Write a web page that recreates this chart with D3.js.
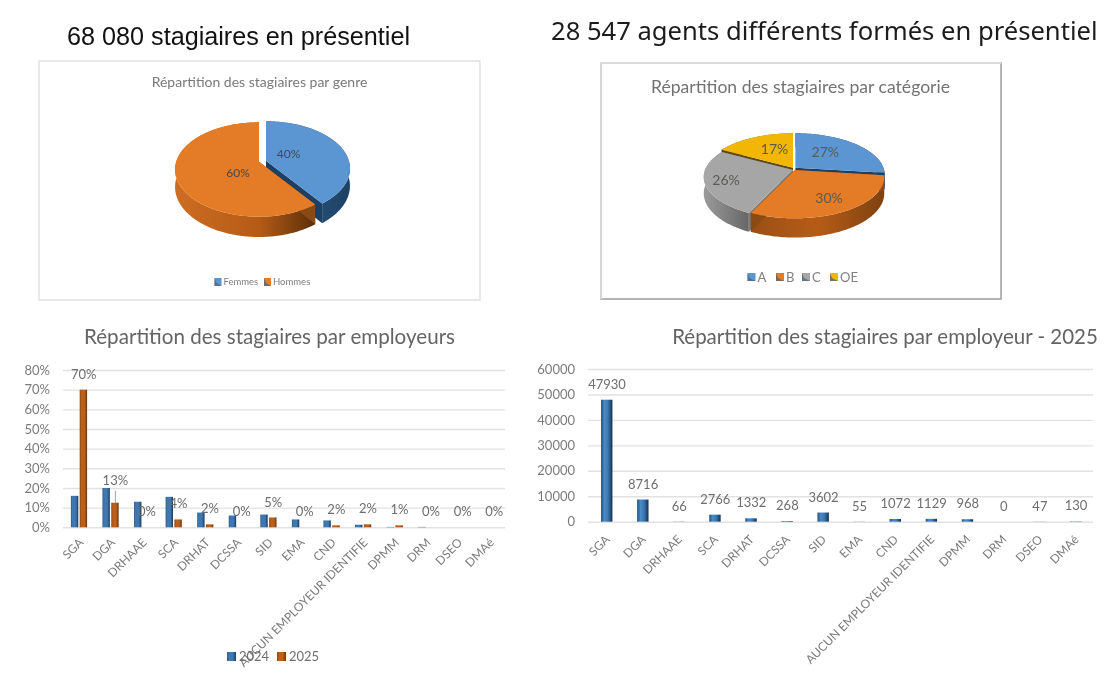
<!DOCTYPE html>
<html>
<head>
<meta charset="utf-8">
<script src="https://cdn.jsdelivr.net/npm/d3@7"></script>
<style>
  html, body { margin: 0; padding: 0; background: #fff; }
  svg { display: block; filter: blur(0.6px); }
  text { font-family: Lato, sans-serif; }
  .tick line { stroke: #e2e2e2; stroke-width: 1.4; }
  .tick text { fill: #7b7b7b; }
  .domain { display: none; }
</style>
</head>
<body>
<svg id="chart" width="1107" height="679"></svg>
<script>
const genreLabels = ['Femmes', 'Hommes'];
const genreValues = [40, 60];
const categorieLabels = ['A', 'B', 'C', 'OE'];
const categorieValues = [27, 30, 26, 17];

const employeurs = ['SGA', 'DGA', 'DRHAAE', 'SCA', 'DRHAT', 'DCSSA', 'SID', 'EMA', 'CND',
  'AUCUN EMPLOYEUR IDENTIFIE', 'DPMM', 'DRM', 'DSEO', 'DMAé'];
const part2024 = [16, 20, 13, 15.5, 7.5, 6, 6.5, 4, 3.5, 1.3, 0.2, 0.2, 0, 0];
const part2025 = [70, 12.5, 0, 4, 1.5, 0, 5, 0, 1, 1.5, 1, 0, 0, 0];
const part2025Labels = ['70%', '13%', '0%', '4%', '2%', '0%', '5%', '0%', '2%', '2%', '1%', '0%', '0%', '0%'];
const effectifs2025 = [47930, 8716, 66, 2766, 1332, 268, 3602, 55, 1072, 1129, 968, 0, 47, 130];

const svg = d3.select('#chart');
const defs = svg.append('defs');

function gradient(id, stops) {
  const g = defs.append('linearGradient').attr('id', id);
  stops.forEach(s => g.append('stop').attr('offset', s[0]).attr('stop-color', s[1]));
  return `url(#${id})`;
}

const barBlue = gradient('barBlue', [[0, '#2c5a88'], [0.2, '#3f78b0'], [0.65, '#3f78b0'], [1, '#1b3a5a']]);
const barOrange = gradient('barOrange', [[0, '#8f4712'], [0.25, '#bb5f1c'], [0.65, '#bb5f1c'], [1, '#6d3509']]);
const barBlue2 = gradient('barBlue2', [[0, '#24517e'], [0.3, '#4a8ac6'], [0.6, '#3b78b3'], [1, '#12314f']]);

const sideBlue = gradient('sideBlue', [[0, '#2c5a86'], [1, '#1e4266']]);
const sideOrange = gradient('sideOrange', [[0, '#cc6d22'], [0.6, '#b55b16'], [1, '#5c2e08']]);
const sideOrange2 = gradient('sideOrange2', [[0, '#9a4f15'], [0.5, '#b65c17'], [1, '#7d4210']]);
const sideGrey = gradient('sideGrey', [[0, '#9b9b9b'], [1, '#666']]);

// perspective pie: p is the foreshortening, so the apex sits above the ellipse centre
function drawPie(values, o) {
  const g = svg.append('g');
  const arcs = d3.pie().sort(null)(values);
  const line = d3.line();

  const project = (arc, angle, r, depth) => {
    const shift = o.explode[arc.index];
    const u = r * Math.sin(angle);
    const v = -r * Math.cos(angle);
    const w = 1 - o.p * v;
    return [o.cx + shift[0] + o.a * u / w, o.cy + shift[1] + (o.b * v + depth) / w];
  };
  const rim = (arc, depth) => d3.range(arc.startAngle, arc.endAngle, 0.02)
    .concat(arc.endAngle)
    .map(t => project(arc, t, 1, depth));

  o.order.forEach(i => {
    const arc = arcs[i];
    const top = rim(arc, 0);
    const bottom = rim(arc, o.depth).reverse();
    g.append('path').attr('d', line(top.concat(bottom)) + 'Z').attr('fill', o.sides[i]);

    [arc.startAngle, arc.endAngle].forEach(t => {
      const wall = [project(arc, t, 0, 0), project(arc, t, 1, 0), project(arc, t, 1, o.depth), project(arc, t, 0, o.depth)];
      g.append('path').attr('d', line(wall) + 'Z').attr('fill', o.walls[i]);
    });

    g.append('path')
      .attr('d', line([project(arc, 0, 0, 0)].concat(top)) + 'Z')
      .attr('fill', o.colors[i]);
  });

  g.selectAll('text.val')
    .data(arcs)
    .join('text')
    .attr('class', 'val')
    .attr('x', d => o.labelAt[d.index][0])
    .attr('y', d => o.labelAt[d.index][1])
    .attr('dy', '0.35em')
    .attr('text-anchor', 'middle')
    .attr('font-size', o.labelSize)
    .attr('fill', o.labelColor)
    .text(d => d.value + '%');
}

function legendPie(labels, colors, xs, y, size, gap) {
  const items = svg.append('g').selectAll('g').data(labels).join('g')
    .attr('transform', (d, i) => `translate(${xs[i]},${y})`);
  items.append('rect').attr('x', 0).attr('y', -4).attr('width', gap - 2).attr('height', 8)
    .attr('fill', (d, i) => colors[i]);
  items.append('path')
    .attr('d', `M0,-4V4H${gap - 2}L2,1Z`)
    .attr('fill', '#54657a').attr('opacity', 0.8);
  items.append('text')
    .attr('x', gap).attr('dy', '0.35em')
    .attr('font-size', size).attr('fill', '#7f7f7f')
    .text(d => d);
}

function title(text, x, y, size, color, family, anchor) {
  svg.append('text')
    .attr('x', x).attr('y', y)
    .attr('font-size', size).attr('fill', color)
    .attr('text-anchor', anchor || 'start')
    .style('font-family', family || null)
    .text(text);
}

function drawBars(o) {
  const x = d3.scaleBand().domain(employeurs).range([o.left, o.right]);
  const y = d3.scaleLinear().domain([0, o.max]).range([o.bottom, o.top]);

  svg.append('g')
    .attr('transform', `translate(${o.left},0)`)
    .call(d3.axisLeft(y).ticks(o.ticks).tickSize(o.left - o.right).tickPadding(o.pad).tickFormat(o.format))
    .call(g => g.selectAll('text').attr('font-size', o.fontSize));

  const group = svg.append('g');
  o.series.forEach(s => {
    group.selectAll(null)
      .data(s.values)
      .join('rect')
      .attr('x', (d, i) => x(employeurs[i]) + x.bandwidth() / 2 + s.offset - o.barWidth / 2)
      .attr('y', d => y(d))
      .attr('width', o.barWidth)
      .attr('height', d => o.bottom - y(d))
      .attr('fill', s.fill);
  });

  svg.append('g')
    .selectAll('text')
    .data(o.labels)
    .join('text')
    .attr('x', (d, i) => x(employeurs[i]) + x.bandwidth() / 2 + o.labelShift)
    .attr('y', (d, i) => y(o.labelValues[i]) - (o.raised[i] || 15.5))
    .attr('dy', '0.35em')
    .attr('text-anchor', 'middle')
    .attr('font-size', o.fontSize)
    .attr('fill', '#6e6e6e')
    .text(d => d);

  svg.append('g')
    .attr('transform', `translate(0,${o.bottom})`)
    .call(d3.axisBottom(x).tickSize(0))
    .call(g => g.selectAll('text')
      .attr('x', 0).attr('y', 0).attr('dy', '0.35em')
      .attr('text-anchor', 'end')
      .attr('font-size', o.catSize)
      .attr('transform', `translate(${o.catDx},${o.catDy}) rotate(-45)`));

  return { x, y };
}

// cadres des deux camemberts
svg.append('rect').attr('x', 39).attr('y', 61).attr('width', 441).attr('height', 239)
  .attr('fill', '#fff').attr('stroke', '#dcdcdc').attr('stroke-width', 1.3);
svg.append('rect').attr('x', 601).attr('y', 63).attr('width', 400).attr('height', 236)
  .attr('fill', '#fff').attr('stroke', '#a3a3a3').attr('stroke-width', 1.6);
svg.append('path').attr('d', 'M601,299V63H1001').attr('fill', 'none')
  .attr('stroke', '#dadada').attr('stroke-width', 1.8);

title('68 080 stagiaires en présentiel', 67, 45, 25.2, '#111', '"Liberation Sans"');
title('28 547 agents différents formés en présentiel', 551, 40, 25.6, '#1c1c1c', '"Noto Sans"');

title('Répartition des stagiaires par genre', 259.5, 87, 14, '#7a7a7a', null, 'middle');
title('Répartition des stagiaires par catégorie', 800.5, 93, 17.6, '#737373', null, 'middle');
title('Répartition des stagiaires par employeurs', 269.5, 344, 20.6, '#646464', null, 'middle');
title('Répartition des stagiaires par employeur - 2025', 885, 344, 20.5, '#646464', null, 'middle');

drawPie(genreValues, {
  cx: 266, cy: 160.7, a: 82.8, b: 45.9, p: 0.165, depth: 17,
  explode: [[0, 0], [-7, 1]],
  order: [0, 1],
  colors: ['#5b96d2', '#e37b27'],
  sides: [sideBlue, sideOrange],
  walls: ['#1d3f63', '#8a4a14'],
  labelAt: [[288.5, 154], [238, 173]],
  labelSize: 12,
  labelColor: '#3f4a55'
});

drawPie(categorieValues, {
  cx: 795, cy: 169, a: 88, b: 40.2, p: 0.168, depth: 16,
  explode: [[0.4, -1.3], [0, 1], [-2, 1], [-2, -1.3]],
  order: [3, 0, 2, 1],
  colors: ['#5b96d2', '#e37b27', '#a6a6a6', '#f2b705'],
  sides: [sideBlue, sideOrange2, sideGrey, '#8f6d05'],
  walls: ['#1d3f63', '#8a4a14', '#7b7b7b', '#5f4a07'],
  labelAt: [[825.3, 151.7], [829, 197.7], [726, 180], [774.5, 149]],
  labelSize: 14,
  labelColor: '#5b5b55'
});

legendPie(genreLabels, ['#5b96d2', '#e37b27'], [214.5, 264], 282, 9.5, 9);
legendPie(categorieLabels, ['#5b96d2', '#e37b27', '#a6a6a6', '#f2b705'], [747.5, 776, 802, 830], 277, 13, 10);

const left = drawBars({
  left: 63, right: 505, top: 370, bottom: 527.3, max: 80, ticks: 8,
  pad: 13, format: d => d + '%', fontSize: 13, catSize: 12, catDx: 2.5, catDy: 13,
  barWidth: 7.4,
  series: [{ values: part2024, fill: barBlue, offset: -4.2 }, { values: part2025, fill: barOrange, offset: 4.6 }],
  labels: part2025Labels, labelValues: part2025, labelShift: 5,
  raised: { 1: 22 }
});

// trait de rappel de l'étiquette 13%
svg.append('line')
  .attr('x1', left.x('DGA') + left.x.bandwidth() / 2 + 5).attr('x2', left.x('DGA') + left.x.bandwidth() / 2 + 5)
  .attr('y1', left.y(part2025[1]) - 12).attr('y2', left.y(part2025[1]))
  .attr('stroke', '#9a9a9a').attr('stroke-width', 0.9);

drawBars({
  left: 588, right: 1093, top: 369, bottom: 521.7, max: 60000, ticks: 6,
  pad: 13, format: d => d, fontSize: 13, catSize: 12, catDx: 1.5, catDy: 15.5,
  barWidth: 11.4,
  series: [{ values: effectifs2025, fill: barBlue2, offset: 0.7 }],
  labels: effectifs2025, labelValues: effectifs2025, labelShift: 1,
  raised: {}
});

// légende des années, sous le libellé le plus long comme sur l'original
const years = ['2024', '2025'];
const yearItems = svg.append('g').selectAll('g').data(years).join('g')
  .attr('transform', (d, i) => `translate(${[227, 277][i]},656.5)`);
yearItems.append('rect').attr('y', -4.5).attr('width', 9).attr('height', 9)
  .attr('fill', (d, i) => [barBlue, barOrange][i]);
yearItems.append('text').attr('x', 12).attr('dy', '0.35em')
  .attr('font-size', 13).attr('fill', '#6e6e6e').text(d => d);
</script>
</body>
</html>
